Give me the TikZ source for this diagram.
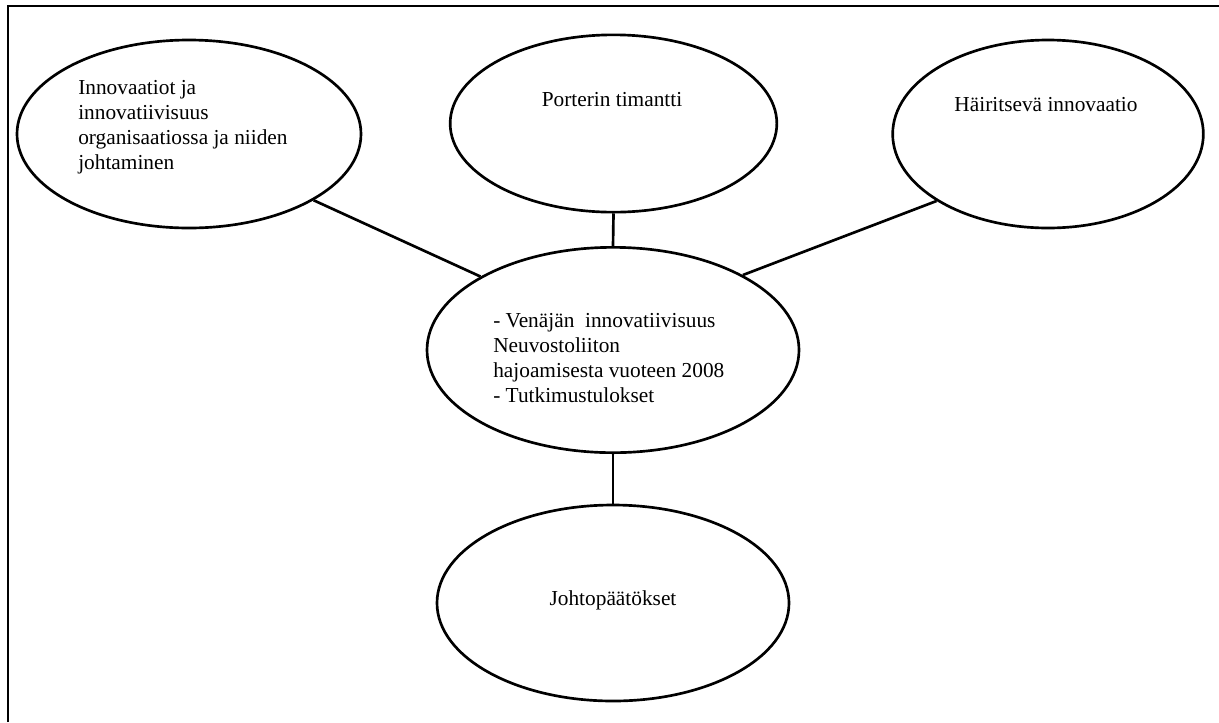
\documentclass[tikz,border=0pt]{standalone}
\usepackage{fontspec}
\setmainfont{Liberation Serif}
\usetikzlibrary{shapes.geometric}

\begin{document}
\begin{tikzpicture}[x=0.75pt,y=-0.75pt,
    topic/.style={draw,ellipse,line width=2pt,inner sep=0pt},
    txt/.style={inner sep=0pt,font=\fontsize{16}{18.75}\selectfont},
    link/.style={line width=2pt}]
    % Page area and the two frame edges that show
    \useasboundingbox (0,0) rectangle (1219,722);
    \draw[line width=2pt] (8,722) -- (8,6) -- (1219,6);
    
    % The five ellipses
    \node[topic,minimum width=258pt,minimum height=141pt] (innov) at (189,134) {};
    \node[topic,minimum width=245pt,minimum height=133pt] (porter) at (613.5,123.5) {};
    \node[topic,minimum width=233pt,minimum height=141pt] (hairit) at (1048,134) {};
    \node[topic,minimum width=279pt,minimum height=154pt] (venaja) at (613,350) {};
    \node[topic,minimum width=264pt,minimum height=147pt] (johto) at (613,603) {};
    
    % Texts inside the ellipses
    \node[txt,anchor=north west,align=left] (innovtxt) at (78,80)
        {Innovaatiot ja\\innovatiivisuus\\organisaatiossa ja niiden\\johtaminen};
    \node[txt,anchor=base] (portertxt) at (612,106) {Porterin timantti};
    \node[txt,anchor=base] (hairittxt) at (1046,111) {Häiritsevä innovaatio};
    \node[txt,anchor=north west,align=left] (venajatxt) at (493,313)
        {- Venäjän\ \ innovatiivisuus\\Neuvostoliiton\\hajoamisesta vuoteen 2008\\- Tutkimustulokset};
    \node[txt,anchor=base] (johtotxt) at (613,605) {Johtopäätökset};
    
    % Connectors to the centre ellipse
    \draw[link] (innov.-28) -- (venaja.151);
    \draw[link] (porter.south) -- (venaja.north);
    \draw[link] (hairit.211) -- (venaja.30);
    \draw[link] (venaja.south) -- (johto.north);
\end{tikzpicture}
\end{document}
